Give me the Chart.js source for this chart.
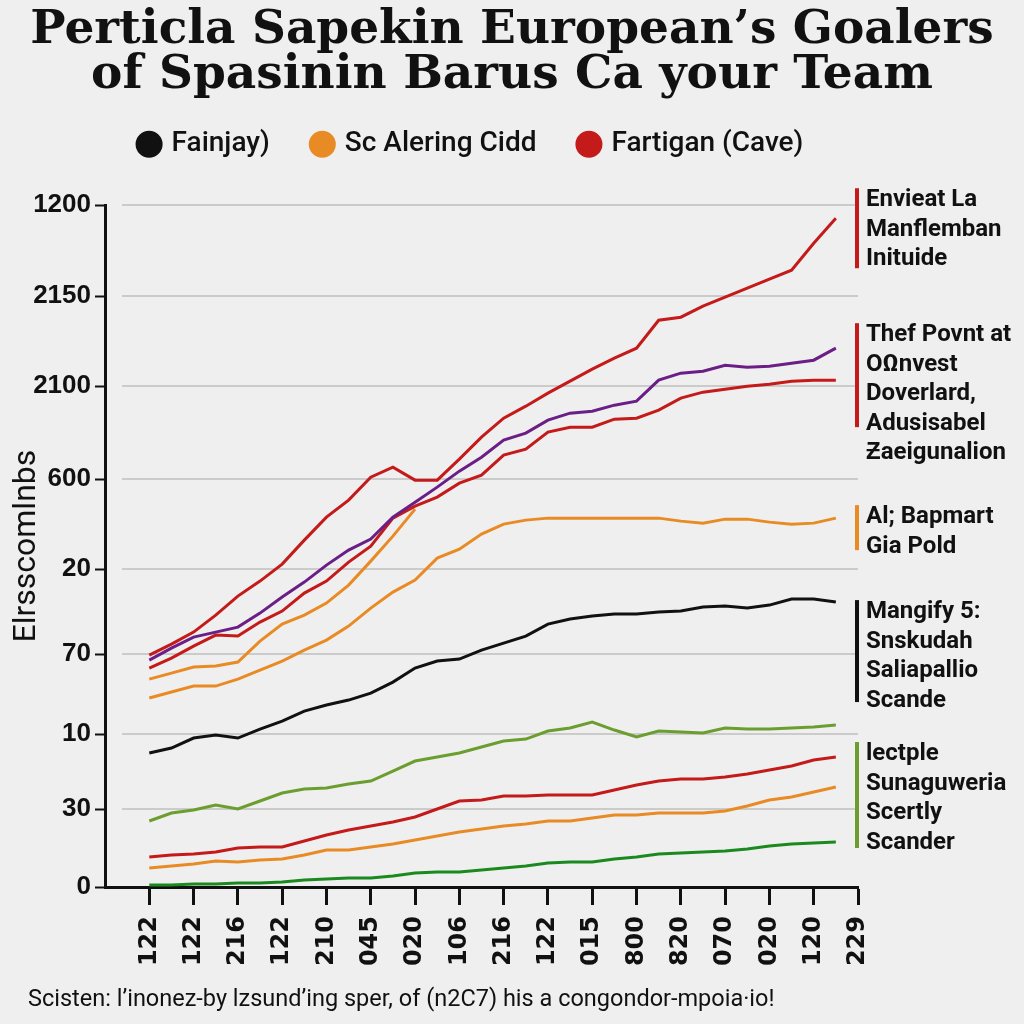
<!DOCTYPE html>
<html>
<head>
<meta charset="utf-8">
<script src="https://cdn.jsdelivr.net/npm/chart.js@4.4.1/dist/chart.umd.min.js"></script>
<style>
  html, body { margin: 0; padding: 0; background: #efeff0; }
  #wrap { width: 1024px; height: 1024px; position: relative; }
</style>
</head>
<body>
<div id="wrap"><canvas id="grafico"></canvas></div>
<script>
// positions on the x scale where the lines are sampled (half steps between ticks)
const xSteps = [0, 0.5, 1, 1.5, 2, 2.5, 3, 3.5, 4, 4.5, 5, 5.5, 6, 6.5, 7, 7.5,
                8, 8.5, 9, 9.5, 10, 10.5, 11, 11.5, 12, 12.5, 13, 13.5, 14, 14.5, 15, 15.5];
const xLabels = ["122", "122", "216", "122", "210", "045", "020", "106", "216",
                 "122", "015", "800", "820", "070", "020", "120", "229"];

// y ticks are not evenly labelled, so keep where they sit and what they say
const yTickValues = [0, 78, 153, 233, 318, 408, 501, 591, 682];
const yTickLabels = ["0", "30", "10", "70", "20", "600", "2100", "2150", "1200"];

// series values
const blackVals = [134, 139, 149, 152, 149, 158, 166, 176, 182, 187, 194, 205, 219, 226, 228, 237,
                   244, 251, 263, 268, 271, 273, 273, 275, 276, 280, 281, 279, 282, 288, 288, 285];
const orangeMidVals = [189, 195, 201, 201, 208, 217, 226, 237, 247, 261, 279, 295, 307, 329, 338, 353,
                       363, 367, 369, 369, 369, 369, 369, 369, 366, 364, 368, 368, 365, 363, 364, 369];
const redTopVals = [232, 243, 255, 272, 291, 306, 323, 347, 370, 387, 410, 420, 407, 407, 428, 450,
                    469, 481, 494, 506, 518, 529, 539, 567, 570, 581, 590, 599, 608, 617, 644, 669];
const purpleVals = [227, 239, 250, 255, 260, 274, 290, 305, 322, 337, 348, 370, 385, 400, 416, 430,
                    447, 454, 467, 474, 476, 482, 486, 507, 514, 516, 522, 520, 521, 524, 527, 539];
const redMidVals = [219, 229, 241, 252, 251, 265, 276, 294, 306, 325, 341, 369, 381, 390, 404, 412,
                    432, 438, 455, 460, 460, 468, 469, 477, 489, 495, 498, 501, 503, 506, 507, 507];
const orangeHighVals = [208, 214, 220, 221, 225, 246, 263, 272, 284, 302, 326, 351, 378, null, null, null,
                        null, null, null, null, null, null, null, null, null, null, null, null, null, null, null, null];
const limeVals = [66, 74, 77, 82, 78, 86, 94, 98, 99, 103, 106, 116, 126, 130, 134, 140,
                  146, 148, 156, 159, 165, 157, 150, 156, 155, 154, 159, 158, 158, 159, 160, 162];
const redLowVals = [30, 32, 33, 35, 39, 40, 40, 46, 52, 57, 61, 65, 70, 78, 86, 87,
                    91, 91, 92, 92, 92, 97, 102, 106, 108, 108, 110, 113, 117, 121, 127, 130];
const orangeLowVals = [19, 21, 23, 26, 25, 27, 28, 32, 37, 37, 40, 43, 47, 51, 55, 58,
                       61, 63, 66, 66, 69, 72, 72, 74, 74, 74, 76, 81, 87, 90, 95, 100];
const greenVals = [2, 2, 3, 3, 4, 4, 5, 7, 8, 9, 9, 11, 14, 15, 15, 17,
                   19, 21, 24, 25, 25, 28, 30, 33, 34, 35, 36, 38, 41, 43, 44, 45];

const titleLines = ["Perticla Sapekin European\u2019s Goalers", "of Spasinin Barus Ca your Team"];
const yTitle = "Elrsscomlnbs";
const footerText = "Scisten: l\u2019inonez-by lzsund\u2019ing sper, of (n2C7) his a congondor-mpoia\u00b7io!";

// notes on the right, placed on the y scale
const notes = [
    { color: "#c41a1a", from: 699, to: 619, lines: ["Envieat La", "Manflemban", "Inituide"] },
    { color: "#c41a1a", from: 564, to: 460, lines: ["Thef Povnt at", "O\u03a9nvest", "Doverlard,", "Adusisabel", "\u01b5aeigunalion"] },
    { color: "#e98b24", from: 382, to: 337, lines: ["Al; Bapmart", "Gia Pold"] },
    { color: "#111111", from: 287, to: 185, lines: ["Mangify 5:", "Snskudah", "Saliapallio", "Scande"] },
    { color: "#6b9e2e", from: 145, to: 39, lines: ["lectple", "Sunaguweria", "Scertly", "Scander"] }
];

function serie(label, cor, vals, legenda) {
    return {
        label: label,
        data: xSteps.map((x, i) => ({ x: x, y: vals[i] })),
        borderColor: cor,
        backgroundColor: cor,
        borderWidth: 3,
        pointRadius: 0,
        tension: 0,
        showInLegend: legenda
    };
}

const datasets = [
    serie("Fainjay)", "#111111", blackVals, true),
    serie("Sc Alering Cidd", "#e98b24", orangeMidVals, true),
    serie("Fartigan (Cave)", "#c41a1a", redTopVals, true),
    serie("purple", "#6b1f86", purpleVals, false),
    serie("red mid", "#c41a1a", redMidVals, false),
    serie("orange high", "#e98b24", orangeHighVals, false),
    serie("lime", "#6b9e2e", limeVals, false),
    serie("red low", "#c41a1a", redLowVals, false),
    serie("orange low", "#e98b24", orangeLowVals, false),
    serie("green", "#1a8a1f", greenVals, false)
];

// grid lines that start a bit right of the axis, plus the notes and the footer
const extras = {
    id: "extras",
    beforeDatasetsDraw(chart) {
        const { ctx, chartArea, scales } = chart;
        ctx.save();
        ctx.strokeStyle = "#cbcbcb";
        ctx.lineWidth = 2;
        yTickValues.forEach(v => {
            if (v === 0) return;
            const py = Math.round(scales.y.getPixelForValue(v));
            ctx.beginPath();
            ctx.moveTo(chartArea.left + 17, py);
            ctx.lineTo(chartArea.right, py);
            ctx.stroke();
        });
        ctx.restore();
    },
    afterDraw(chart) {
        const { ctx, chartArea, scales } = chart;
        ctx.save();
        const x0 = chartArea.right - 3;
        notes.forEach(n => {
            const top = scales.y.getPixelForValue(n.from);
            const bottom = scales.y.getPixelForValue(n.to);
            ctx.fillStyle = n.color;
            ctx.fillRect(x0, top, 4, bottom - top);
            ctx.fillStyle = "#111";
            ctx.font = "bold 24px Roboto, 'Liberation Sans', sans-serif";
            ctx.textBaseline = "middle";
            ctx.textAlign = "left";
            n.lines.forEach((t, i) => ctx.fillText(t, x0 + 11, top + 12 + i * 29.5));
        });
        ctx.font = "23.5px Roboto, 'Liberation Sans', sans-serif";
        ctx.fillStyle = "#111";
        ctx.textBaseline = "middle";
        ctx.fillText(footerText, 28, 1000);
        ctx.restore();
    }
};

// extra room under the legend, and the legend sits over the plot rather than the page
const legendGap = {
    id: "legendGap",
    beforeInit(chart) {
        const fit = chart.legend.fit;
        chart.legend.fit = function () {
            fit.bind(chart.legend)();
            this.height += 25;
        };
    },
    afterLayout(chart) {
        chart.legend.left -= 40;
        chart.legend.right -= 40;
        chart.legend.top -= 12;
        chart.legend.bottom -= 12;
    }
};

new Chart(document.getElementById("grafico"), {
    type: "line",
    data: { datasets: datasets },
    options: {
        responsive: true,
        maintainAspectRatio: false,
        animation: false,
        layout: { padding: 0 },
        plugins: {
            title: {
                display: true,
                text: titleLines,
                color: "#111",
                font: { family: "'DejaVu Serif', serif", size: 47, weight: "bold", lineHeight: 0.96 },
                padding: { top: 8, bottom: 0 }
            },
            legend: {
                display: true,
                labels: {
                    usePointStyle: true,
                    pointStyle: "circle",
                    boxWidth: 17,
                    boxHeight: 17,
                    padding: 44,
                    color: "#111",
                    font: { family: "Roboto, sans-serif", size: 28, weight: "500" },
                    filter: (item, data) => data.datasets[item.datasetIndex].showInLegend
                }
            },
            tooltip: { enabled: false }
        },
        scales: {
            x: {
                type: "linear",
                min: -1,
                max: 16,
                afterBuildTicks: scale => {
                    scale.ticks = xLabels.map((l, i) => ({ value: i }));
                },
                afterFit: scale => { scale.height = 137; },
                ticks: {
                    callback: (v, i) => xLabels[i],
                    minRotation: 90,
                    maxRotation: 90,
                    autoSkip: false,
                    padding: 11,
                    color: "#111",
                    font: { family: "'DejaVu Sans', sans-serif", size: 24, weight: "bold" }
                },
                grid: { drawOnChartArea: false, drawTicks: true, tickLength: 18, tickColor: "#111", tickWidth: 3 },
                border: { color: "#111", width: 3 }
            },
            y: {
                type: "linear",
                min: 0,
                max: 682,
                afterBuildTicks: scale => {
                    scale.ticks = yTickValues.map(v => ({ value: v }));
                },
                afterFit: scale => { scale.width = 105; },
                ticks: {
                    callback: (v, i) => yTickLabels[i],
                    autoSkip: false,
                    padding: 4,
                    color: "#111",
                    font: { family: "'Liberation Sans', sans-serif", size: 26, weight: "bold" }
                },
                title: {
                    display: true,
                    text: yTitle,
                    color: "#111",
                    padding: { top: 8, bottom: 0 },
                    font: { family: "Roboto, sans-serif", size: 32 }
                },
                grid: { drawOnChartArea: false, drawTicks: true, tickLength: 10, tickColor: "#111", tickWidth: 2 },
                border: { color: "#111", width: 3 }
            },
            // empty column on the right that holds the notes
            side: {
                type: "linear",
                position: "right",
                afterFit: scale => { scale.width = 166; },
                ticks: { display: false },
                grid: { display: false },
                border: { display: false }
            }
        }
    },
    plugins: [extras, legendGap]
});
</script>
</body>
</html>
